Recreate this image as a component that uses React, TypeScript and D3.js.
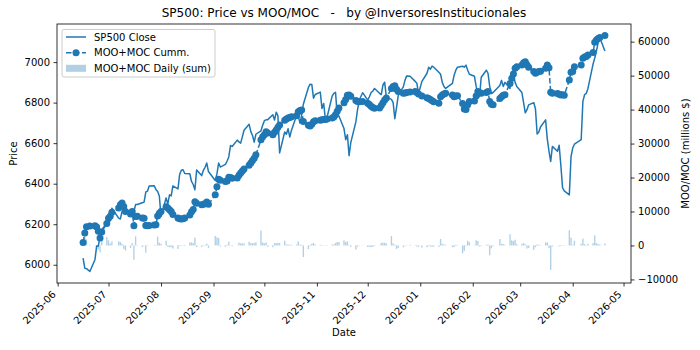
import { useEffect, useRef } from "react";
import * as d3 from "d3";

// Trading days of each month (one sample per session)
const tradingDays: [string, number[]][] = [
  ["2025-06", [16, 17, 18, 20, 23, 24, 25, 26, 27, 30]],
  ["2025-07", [1, 2, 3, 7, 8, 9, 10, 11, 14, 15, 16, 17, 18, 21, 22, 23, 24, 25, 28, 29, 30, 31]],
  ["2025-08", [1, 4, 5, 6, 7, 8, 11, 12, 13, 14, 15, 18, 19, 20, 21, 22, 25, 26, 27, 28, 29]],
  ["2025-09", [2, 3, 4, 5, 8, 9, 10, 11, 12, 15, 16, 17, 18, 19, 22, 23, 24, 25, 26, 29, 30]],
  ["2025-10", [1, 2, 3, 6, 7, 8, 9, 10, 13, 14, 15, 16, 17, 20, 21, 22, 23, 24, 27, 28, 29, 30, 31]],
  ["2025-11", [3, 4, 5, 6, 7, 10, 11, 12, 13, 14, 17, 18, 19, 20, 21, 24, 25, 26, 28]],
  ["2025-12", [1, 2, 3, 4, 5, 8, 9, 10, 11, 12, 15, 16, 17, 18, 19, 22, 23, 24, 26, 29, 30, 31]],
  ["2026-01", [2, 5, 6, 7, 8, 9, 12, 13, 14, 15, 16, 20, 21, 22, 23, 26, 27, 28, 29, 30]],
  ["2026-02", [2, 3, 4, 5, 6, 9, 10, 11, 12, 13, 17, 18, 19, 20, 23, 24, 25, 26, 27]],
  ["2026-03", [2, 3, 4, 5, 6, 9, 10, 11, 12, 13, 16, 17, 18, 19, 20, 23, 24, 25, 26, 27, 30, 31]],
  ["2026-04", [1, 2, 6, 7, 8, 9, 10, 13, 14, 15, 16, 17, 20]],
];

// SP500 close
const spClose: number[] = [
  6033, 5983, 5981, 5967, 6025, 6092, 6092, 6141, 6173, 6205,
  6198, 6227, 6279, 6230, 6226, 6263, 6280, 6260, 6269, 6244, 6264, 6297, 6297, 6306, 6309, 6359, 6363, 6389, 6390, 6371, 6362, 6339,
  6238, 6330, 6299, 6345, 6340, 6389, 6374, 6446, 6466, 6469, 6450, 6449, 6411, 6396, 6370, 6467, 6440, 6466, 6481, 6502, 6460,
  6416, 6448, 6502, 6482, 6495, 6512, 6532, 6588, 6584, 6615, 6606, 6600, 6631, 6664, 6693, 6657, 6638, 6605, 6644, 6661, 6688,
  6711, 6715, 6716, 6740, 6714, 6753, 6735, 6552, 6655, 6644, 6671, 6630, 6664, 6736, 6735, 6699, 6738, 6792, 6875, 6891, 6890, 6822, 6840,
  6852, 6771, 6796, 6720, 6728, 6832, 6846, 6851, 6737, 6734, 6672, 6617, 6642, 6538, 6603, 6705, 6766, 6813, 6849,
  6812, 6829, 6850, 6857, 6870, 6846, 6840, 6887, 6901, 6827, 6816, 6800, 6721, 6775, 6835, 6878, 6910, 6932, 6930, 6905, 6896, 6845,
  6905, 6945, 6975, 6965, 6980, 6975, 6950, 6940, 6900, 6880, 6870, 6895, 6935, 6960, 6975, 6980, 6975, 6985, 6960, 6940,
  6930, 6880, 6850, 6830, 6925, 6960, 6945, 6880, 6845, 6850, 6885, 6910, 6880, 6900, 6870, 6935, 6940, 6900, 6880,
  6850, 6800, 6750, 6765, 6789, 6800, 6770, 6645, 6655, 6680, 6715, 6620, 6560, 6510, 6584, 6560, 6590, 6490, 6380, 6365, 6345, 6534,
  6576, 6595, 6617, 6806, 6839, 6845, 6870, 6990, 7020, 7055, 7095, 7120, 7055,
];

// MOO+MOC cumulative (millions $)
const mooMocCumm: number[] = [
  900, 3700, 5500, 5700, 5800, 5400, 4200, 2200, 4000, 6500,
  8000, 8600, 9800, 11000, 12000, 12500, 11500, 10000, 9300, 10000, 5800, 8500, 8600, 8100, 8000, 5900, 5800, 5850, 6000, 6100, 8700, 9500,
  10000, 11400, 11000, 10500, 10000, 9100, 8100, 7900, 7800, 7900, 8100, 9000, 9900, 10600, 12900, 12400, 12000, 12100, 12300, 12800, 12100,
  14900, 17300, 19500, 19200, 18800, 19000, 20100, 20000, 19800, 19850, 20700, 21300, 21900, 22500, 23600, 24300, 25000, 25700, 26700, 31100, 32000,
  32600, 33500, 33100, 32600, 33300, 34000, 34800, 35500, 36900, 37200, 37500, 37700, 37900, 38200, 39400, 39700, 39900, 36500, 35400, 35200, 35700, 36400, 36700,
  36900, 37000, 37050, 37100, 37200, 37500, 37800, 38500, 39500, 40500, 42000, 43000, 44200, 44300, 43900, 42700, 42400, 42300, 42350,
  41900, 41500, 41000, 40600, 40400, 40450, 41200, 42000, 42800, 43400, 46200, 46800, 47000, 46000, 45300, 44800, 44900, 45000, 45200, 45300, 45000, 44600,
  44000, 43500, 43300, 43000, 42600, 42300, 41900, 43800, 44300, 44600, 44800, 44300, 43800, 44000, 44100, 41800, 40200, 40000, 41400, 42400,
  42500, 44000, 45300, 45000, 44800, 45000, 45300, 42400, 41600, 41400, 43300, 43800, 44200, 44400, 47700, 49200, 50500, 52200, 52600,
  53100, 53800, 54100, 53200, 52500, 51200, 50700, 51000, 51200, 51300, 52200, 53100, 52300, 45100, 44800, 44750, 44500, 44300, 44350, 44200, 48700, 51000,
  51200, 52600, 53100, 55100, 55500, 55600, 56100, 56800, 59800, 60500, 60900, 61200, 61800,
];

// MOO+MOC daily sum (millions $)
const mooMocDaily: number[] = [
  900, 2800, 1800, 200, 100, -400, -1200, -2000, 1800, 2500,
  1500, 600, 1200, 1200, 1000, 500, -1000, -1500, -700, 700, -4200, 2700, 100, -500, -100, -2100, -100, 50, 150, 100, 2600, 800,
  500, 1400, -400, -500, -500, -900, -1000, -200, -100, 100, 200, 900, 900, 700, 2300, -500, -400, 100, 200, 500, -700,
  2800, 2400, 2200, -300, -400, 200, 1100, -100, -200, 50, 850, 600, 600, 600, 1100, 700, 700, 700, 1000, 4400, 900,
  600, 900, -400, -500, 700, 700, 800, 700, 1400, 300, 300, 200, 200, 300, 1200, 300, 200, -3400, -1100, -200, 500, 700, 300,
  200, 100, 50, 50, 100, 300, 300, 700, 1000, 1000, 1500, 1000, 1200, 100, -400, -1200, -300, -100, 50,
  -450, -400, -500, -400, -200, 50, 750, 800, 800, 600, 2800, 600, 200, -1000, -700, -500, 100, 100, 200, 100, -300, -400,
  -600, -500, -200, -300, -400, -300, -400, 1900, 500, 300, 200, -500, -500, 200, 100, -2300, -1600, -200, 1400, 1000,
  100, 1500, 1300, -300, -200, 200, 300, -2900, -800, -200, 1900, 500, 400, 200, 3300, 1500, 1300, 1700, 400,
  500, 700, 300, -900, -700, -1300, -500, 300, 200, 100, 900, 900, -800, -7200, -300, -50, -250, -200, 50, -150, 4500, 2300,
  200, 1400, 500, 2000, 400, 100, 500, 700, 3000, 700, 400, 300, 600,
];

const monthTicks = [
  "2025-06", "2025-07", "2025-08", "2025-09", "2025-10", "2025-11",
  "2025-12", "2026-01", "2026-02", "2026-03", "2026-04", "2026-05",
];
const priceTicks = [6000, 6200, 6400, 6600, 6800, 7000];
const flowTicks = [-10000, 0, 10000, 20000, 30000, 40000, 50000, 60000];
const priceLimits: [number, number] = [5910, 7188];
const flowLimits: [number, number] = [-11050, 65200];

const C0 = "#1f77b4";
const DAY = 864e5;

interface Row {
  date: Date;
  close: number;
  cumm: number;
  daily: number;
}

export default function App() {
  const svgRef = useRef<SVGSVGElement>(null);

  useEffect(() => {
    if (!svgRef.current) return;

    const parse = d3.timeParse("%Y-%m-%d");
    const dates = tradingDays.flatMap(([m, days]) =>
      days.map((d) => parse(`${m}-${String(d).padStart(2, "0")}`) as Date)
    );
    const data: Row[] = dates.map((date, i) => ({
      date,
      close: spClose[i],
      cumm: mooMocCumm[i],
      daily: mooMocDaily[i],
    }));

    const width = 700;
    const height = 350;
    const margin = { top: 24, right: 69, bottom: 67, left: 57 };
    const chartWidth = width - margin.left - margin.right;
    const chartHeight = height - margin.top - margin.bottom;

    const svg = d3.select(svgRef.current);
    svg.selectAll("*").remove();
    svg
      .attr("width", width)
      .attr("height", height)
      .attr("font-family", "DejaVu Sans, sans-serif");

    svg.append("rect").attr("width", width).attr("height", height).attr("fill", "#fff");

    const g = svg
      .append("g")
      .attr("transform", `translate(${margin.left},${margin.top})`);

    // x: data extent with 5% padding each side (matplotlib margins)
    const [d0, d1] = d3.extent(dates) as [Date, Date];
    const pad = (d1.getTime() - d0.getTime()) * 0.05;
    const xScale = d3
      .scaleTime()
      .domain([new Date(d0.getTime() - pad), new Date(d1.getTime() + pad)])
      .range([0, chartWidth]);

    const yPrice = d3.scaleLinear().domain(priceLimits).range([chartHeight, 0]);
    const yFlow = d3.scaleLinear().domain(flowLimits).range([chartHeight, 0]);

    // SP500 close line (left axis)
    const priceLine = d3
      .line<Row>()
      .x((d) => xScale(d.date))
      .y((d) => yPrice(d.close));

    g.append("path")
      .datum(data)
      .attr("fill", "none")
      .attr("stroke", C0)
      .attr("stroke-width", 1.5)
      .attr("stroke-linejoin", "round")
      .attr("d", priceLine);

    // Daily bars (right axis)
    g.append("g")
      .selectAll("rect")
      .data(data)
      .join("rect")
      .attr("x", (d) => xScale(new Date(d.date.getTime() - 0.4 * DAY)))
      .attr(
        "width",
        (d) =>
          xScale(new Date(d.date.getTime() + 0.4 * DAY)) -
          xScale(new Date(d.date.getTime() - 0.4 * DAY))
      )
      .attr("y", (d) => yFlow(Math.max(0, d.daily)))
      .attr("height", (d) => Math.abs(yFlow(d.daily) - yFlow(0)))
      .attr("fill", C0)
      .attr("fill-opacity", 0.35);

    // Cumulative dashed line with markers
    const cummLine = d3
      .line<Row>()
      .x((d) => xScale(d.date))
      .y((d) => yFlow(d.cumm));

    g.append("path")
      .datum(data)
      .attr("fill", "none")
      .attr("stroke", C0)
      .attr("stroke-width", 1.5)
      .attr("stroke-dasharray", "5.55,2.4")
      .attr("d", cummLine);

    g.append("g")
      .selectAll("circle")
      .data(data)
      .join("circle")
      .attr("cx", (d) => xScale(d.date))
      .attr("cy", (d) => yFlow(d.cumm))
      .attr("r", 3.5)
      .attr("fill", C0);

    // Frame
    g.append("rect")
      .attr("width", chartWidth)
      .attr("height", chartHeight)
      .attr("fill", "none")
      .attr("stroke", "#000")
      .attr("stroke-width", 0.8);

    // x-axis
    const xAxis = d3
      .axisBottom(xScale)
      .tickValues(monthTicks.map((m) => parse(`${m}-01`) as Date))
      .tickFormat((d) => d3.timeFormat("%Y-%m")(d as Date))
      .tickSize(3.5)
      .tickSizeOuter(0);
    const xAxisGroup = g
      .append("g")
      .attr("transform", `translate(0,${chartHeight})`)
      .call(xAxis);
    xAxisGroup.select(".domain").remove();
    xAxisGroup.selectAll("line").attr("stroke-width", 0.8);
    xAxisGroup
      .selectAll("text")
      .attr("y", null)
      .attr("dy", null)
      .attr("text-anchor", "end")
      .attr("transform", "translate(-1.7,12.1) rotate(-45)");

    // left y-axis
    const yAxis = d3
      .axisLeft(yPrice)
      .tickValues(priceTicks)
      .tickFormat((d) => d3.format("d")(d as number))
      .tickSize(3.5)
      .tickPadding(3.5)
      .tickSizeOuter(0);
    const yAxisGroup = g.append("g").call(yAxis);
    yAxisGroup.select(".domain").remove();
    yAxisGroup.selectAll("line").attr("stroke-width", 0.8);

    // right y-axis
    const y2Axis = d3
      .axisRight(yFlow)
      .tickValues(flowTicks)
      .tickFormat((d) => d3.format("d")(d as number))
      .tickSize(3.5)
      .tickPadding(3.5)
      .tickSizeOuter(0);
    const y2AxisGroup = g
      .append("g")
      .attr("transform", `translate(${chartWidth},0)`)
      .call(y2Axis);
    y2AxisGroup.select(".domain").remove();
    y2AxisGroup.selectAll("line").attr("stroke-width", 0.8);

    [xAxisGroup, yAxisGroup, y2AxisGroup].forEach((ax) =>
      ax.attr("font-family", null).attr("font-size", 10)
    );

    // Axis labels and title
    svg
      .append("text")
      .attr("x", margin.left + chartWidth / 2)
      .attr("y", 336)
      .attr("text-anchor", "middle")
      .attr("font-size", 10)
      .text("Date");

    svg
      .append("text")
      .attr("transform", `translate(17,${margin.top + chartHeight / 2}) rotate(-90)`)
      .attr("text-anchor", "middle")
      .attr("font-size", 10)
      .text("Price");

    svg
      .append("text")
      .attr("transform", `translate(689,${margin.top + chartHeight / 2}) rotate(-90)`)
      .attr("text-anchor", "middle")
      .attr("font-size", 10)
      .text("MOO/MOC (millions $)");

    svg
      .append("text")
      .attr("x", margin.left + chartWidth / 2)
      .attr("y", 17)
      .attr("text-anchor", "middle")
      .attr("font-size", 12)
      .style("white-space", "pre")
      .text("SP500: Price vs MOO/MOC   -   by @InversoresInstitucionales");

    // Legend
    const legend = svg.append("g").attr("font-size", 10);
    const frame = legend
      .append("rect")
      .attr("x", 62)
      .attr("y", 29.5)
      .attr("height", 47.5)
      .attr("rx", 2)
      .attr("fill", "#fff")
      .attr("fill-opacity", 0.8)
      .attr("stroke", "#cccccc")
      .attr("stroke-width", 1);

    const rows = [37, 52.7, 68.3];
    legend
      .append("line")
      .attr("x1", 66)
      .attr("x2", 86)
      .attr("y1", rows[0])
      .attr("y2", rows[0])
      .attr("stroke", C0)
      .attr("stroke-width", 1.5);
    legend
      .append("line")
      .attr("x1", 66)
      .attr("x2", 86)
      .attr("y1", rows[1])
      .attr("y2", rows[1])
      .attr("stroke", C0)
      .attr("stroke-width", 1.5)
      .attr("stroke-dasharray", "5.55,2.4");
    legend
      .append("circle")
      .attr("cx", 76)
      .attr("cy", rows[1])
      .attr("r", 3.5)
      .attr("fill", C0);
    legend
      .append("rect")
      .attr("x", 66)
      .attr("y", rows[2] - 3.5)
      .attr("width", 20)
      .attr("height", 7)
      .attr("fill", C0)
      .attr("fill-opacity", 0.35);

    const labels = ["SP500 Close", "MOO+MOC Cumm.", "MOO+MOC Daily (sum)"];
    let maxLen = 0;
    labels.forEach((t, i) => {
      const node = legend
        .append("text")
        .attr("x", 94)
        .attr("y", rows[i] + 3.6)
        .text(t)
        .node() as SVGTextElement;
      maxLen = Math.max(maxLen, node.getComputedTextLength());
    });
    frame.attr("width", 94 - 62 + maxLen + 4);
  }, []);

  return (
    <svg
      ref={svgRef}
      style={{ position: "absolute", left: 0, top: 0 }}
      viewBox="0 0 700 350"
    />
  );
}
